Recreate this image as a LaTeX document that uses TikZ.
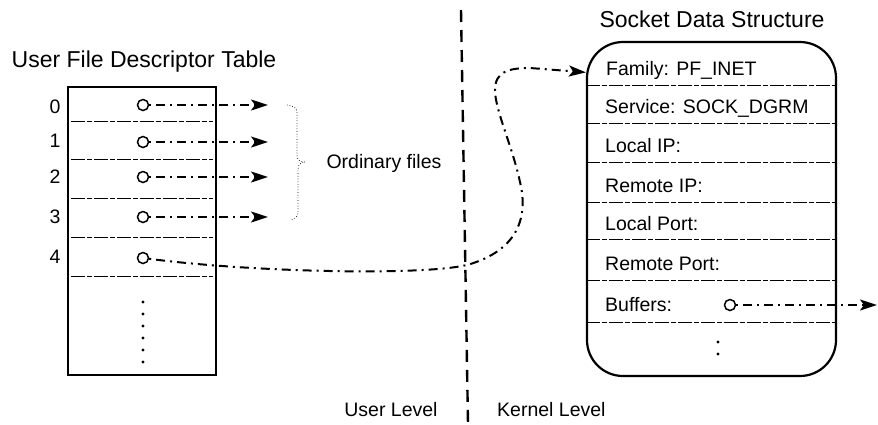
\documentclass[tikz,border=0pt]{standalone}
\usepackage{fontspec}
\setmainfont{Liberation Sans}
\usetikzlibrary{arrows.meta}
\begin{document}
\begin{tikzpicture}[x=1pt,y=-1pt,
  title/.style={font=\fontsize{23}{27}\selectfont, inner sep=0},
  lbl/.style={font=\fontsize{19.5}{23}\selectfont, inner sep=0},
  frame/.style={draw, line width=2.2pt, inner sep=0},
  divider/.style={line width=1pt, dash pattern=on 14pt off 2pt on 5pt off 2pt},
  slot/.style={circle, draw, line width=1.5pt, minimum size=11pt, inner sep=0},
  ptr/.style={line width=2pt, dash pattern=on 2pt off 5pt on 9pt off 5pt,
              -{Stealth[length=17pt,width=11pt,inset=4pt]}},
  boundary/.style={line width=2.4pt, dash pattern=on 12pt off 8pt},
  vdot/.style={circle, fill, inner sep=0, minimum size=3.2pt},
]
\useasboundingbox (0,0) rectangle (878,424);

% ---------- user file descriptor table ----------
\node[title, anchor=base] (ttl) at (144,67) {User File Descriptor Table};
\node[frame, minimum width=148, minimum height=288] (tbl) at (142,231) {};
\foreach \y in {121,159,198,237,276}
  \draw[divider] ([xshift=4]tbl.west |- 0,\y) -- ([xshift=-4]tbl.east |- 0,\y);

\foreach \i/\b/\c in {0/113/105, 1/147/142, 2/183/177, 3/223/217, 4/263/258} {
  \node[lbl, anchor=base] (n\i) at (55,\b) {\i};
  \node[slot] (c\i) at (143,\c) {};
}
\foreach \y in {302,314,...,362}
  \node[vdot] (v\y) at (143,\y) {};

% pointers to ordinary files
\foreach \i/\c in {0/105, 1/142, 2/177, 3/217} {
  \coordinate (a\i) at (268,\c);
  \draw[ptr] (c\i) -- (a\i);
}
\draw[line width=0.7pt, dotted]
  (287,105) .. controls (294,106) and (297,108) .. (297,113) -- (297,155)
  .. controls (297,160) and (300,162) .. (305,162)
  .. controls (300,162) and (298,165) .. (298,170) -- (298,212)
  .. controls (298,217) and (295,219) .. (290,220);
\node[lbl, anchor=base] (ord) at (384,168) {Ordinary files};

% ---------- user / kernel boundary ----------
\draw[boundary] (461,10) -- (468,424);
\node[lbl, anchor=base] (ulev) at (391,416) {User Level};
\node[lbl, anchor=base west] (klev) at (497,416) {Kernel Level};

% ---------- socket data structure ----------
\node[title, anchor=base] (stl) at (712,27) {Socket Data Structure};
\node[frame, rounded corners=36pt, minimum width=249, minimum height=334] (sock) at (711.5,209) {};
\foreach \y in {85,123,162,202,239,280,322}
  \draw[divider] (sock.west |- 0,\y) -- (sock.east |- 0,\y);

\node[lbl, anchor=base west] (fam) at (606,75)  {Family: PF\_INET};
\node[lbl, anchor=base west] (srv) at (605,113) {Service: SOCK\_DGRM};
\node[lbl, anchor=base west] (lip) at (605,152) {Local IP:};
\node[lbl, anchor=base west] (rip) at (605,192) {Remote IP:};
\node[lbl, anchor=base west] (lpt) at (605,230) {Local Port:};
\node[lbl, anchor=base west] (rpt) at (605,270) {Remote Port:};
\node[lbl, anchor=base west] (buf) at (605,311) {Buffers:};
\node[slot] (cb) at (730,305) {};
\coordinate (bout) at (877,305);
\draw[ptr] (cb) -- (bout);
\node[vdot] (s1) at (718,342) {};
\node[vdot] (s2) at (718,354) {};

% ---------- descriptor 4 -> socket ----------
\draw[ptr] (c4) .. controls (250,272) and (420,276) .. (467,265)
  .. controls (520,250) and (528,215) .. (520,182)
  .. controls (512,145) and (495,110) .. (495,90)
  .. controls (495,72) and (508,68) .. (530,68)
  -- (sock.west |- fam.mid);
\end{tikzpicture}
\end{document}
